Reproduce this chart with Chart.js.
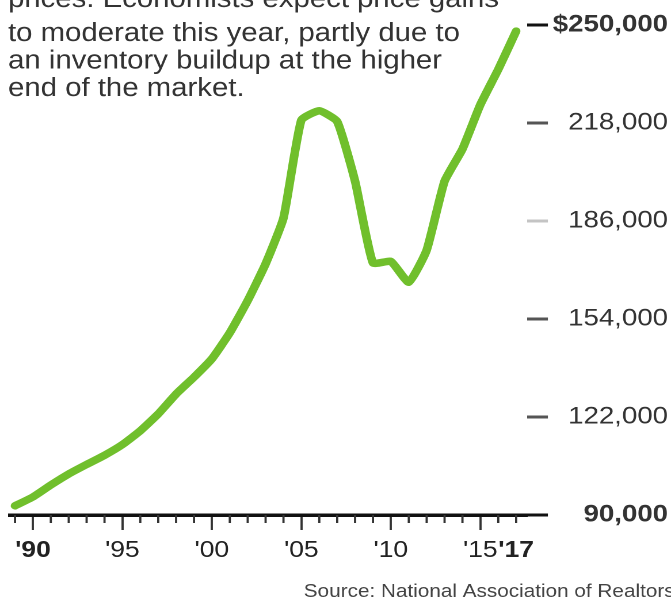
<!DOCTYPE html>
<html>
<head>
<meta charset="utf-8">
<script src="https://cdn.jsdelivr.net/npm/chart.js@4.4.1/dist/chart.umd.min.js"></script>
<style>
  html, body { margin: 0; padding: 0; background: #fff; overflow: hidden; }
  #wrap { position: relative; width: 671px; height: 603px; overflow: hidden; background: #fff; }
  #c { position: absolute; left: 0; top: 0; transform-origin: 0 0; }
</style>
</head>
<body>
<div id="wrap"><canvas id="c"></canvas></div>
<script>
// Median existing-home sale price, U.S., by year
const years = [1989, 1990, 1991, 1992, 1993, 1994, 1995, 1996, 1997, 1998,
               1999, 2000, 2001, 2002, 2003, 2004, 2005, 2006, 2007, 2008,
               2009, 2010, 2011, 2012, 2013, 2014, 2015, 2016, 2017];
const medianPrice = [93000, 95900, 99800, 103400, 106500, 109500, 113000, 117500, 123000, 129500,
                     135000, 141000, 149500, 160000, 172000, 187000, 219000, 222000, 218500, 199000,
                     172300, 172800, 166000, 176500, 199000, 209500, 224000, 235500, 248000];

// Axis ticks
const yTickValues = [90000, 122000, 154000, 186000, 218000, 250000];
const xLabelYears = [1990, 1995, 2000, 2005, 2010, 2015, 2017];
const xLabelText  = ["'90", "'95", "'00", "'05", "'10", "'15", "'17"];

// Text blocks
const headline = [
  "prices. Economists expect price gains",
  "to moderate this year, partly due to",
  "an inventory buildup at the higher",
  "end of the market."
];
const sourceNote = "Source: National Association of Realtors";

// ---- drawing setup ----
const FONT = '"Liberation Sans", Arial, Helvetica, sans-serif';
const SX = 1.15;                         // horizontal stretch of the whole graphic
const W = Math.round(671 / SX), H = 603;
const px = v => v / SX;                  // page x -> canvas x

const canvas = document.getElementById('c');
canvas.width = W;
canvas.height = H;
canvas.style.width = W + 'px';
canvas.style.height = H + 'px';
canvas.style.transform = 'scaleX(' + (671 / W) + ')';

const yTickFont = v => ({ family: FONT, size: 24, weight: (v === 250000 || v === 90000) ? 'bold' : 'normal' });
const yLabel = v => (v === 250000 ? '$' : '') + v.toLocaleString('en-US');
const yTickColor = { 250000: '#111', 218000: '#555', 186000: '#c4c4c4', 154000: '#555', 122000: '#555', 90000: '#111' };

// width of the widest value label, for right-aligning them at the edge
const meas = document.createElement('canvas').getContext('2d');
let widest = 0;
yTickValues.forEach(v => {
  const f = yTickFont(v);
  meas.font = f.weight + ' ' + f.size + 'px ' + f.family;
  widest = Math.max(widest, meas.measureText(yLabel(v)).width);
});
const Y_AXIS_W = px(668 - 527);
const Y_TICK_LEN = px(21);
const Y_PAD = Math.max(0, Y_AXIS_W - Y_TICK_LEN - widest);

// short yearly ticks between the five-year marks
const minorTicks = {
  id: 'minorTicks',
  afterDraw(chart) {
    const xs = chart.scales.x, ctx = chart.ctx;
    ctx.save();
    ctx.strokeStyle = '#333';
    ctx.lineWidth = px(2.2);
    years.forEach(yr => {
      if (yr % 5 === 0) return;
      const x = xs.getPixelForValue(yr);
      ctx.beginPath();
      ctx.moveTo(x, xs.top);
      ctx.lineTo(x, xs.top + 8);
      ctx.stroke();
    });
    ctx.restore();
  }
};

// headline text and source line
const captions = {
  id: 'captions',
  afterDraw(chart) {
    const ctx = chart.ctx;
    ctx.save();
    ctx.fillStyle = '#333';
    ctx.textAlign = 'left';
    ctx.textBaseline = 'alphabetic';
    ctx.font = '25.5px ' + FONT;
    const base = [7, 41, 68.5, 96];
    headline.forEach((line, i) => ctx.fillText(line, px(8), base[i]));
    ctx.font = '18px ' + FONT;
    ctx.textAlign = 'right';
    ctx.fillStyle = '#444';
    ctx.fillText(sourceNote, px(674), 597);
    ctx.restore();
  }
};

new Chart(canvas, {
  type: 'line',
  data: {
    datasets: [{
      data: years.map((yr, i) => ({ x: yr, y: medianPrice[i] })),
      borderColor: '#70bf2c',
      borderWidth: 7.5,
      borderJoinStyle: 'round',
      borderCapStyle: 'round',
      pointRadius: 0,
      tension: 0.15,
      clip: false
    }]
  },
  options: {
    responsive: false,
    animation: false,
    devicePixelRatio: 2,
    layout: { padding: { left: px(10), right: px(3), top: 25, bottom: 38 } },
    plugins: { legend: { display: false }, tooltip: { enabled: false } },
    scales: {
      x: {
        type: 'linear',
        position: 'bottom',
        min: 1988.72,
        max: 2017.6,
        afterBuildTicks: s => { s.ticks = years.map(v => ({ value: v })); },
        afterFit: s => { s.height = 50; },
        ticks: {
          autoSkip: false,
          maxRotation: 0,
          padding: 7,
          color: '#222',
          font: c => ({ family: FONT, size: 23, weight: (c.tick && (c.tick.value === 2017 || c.tick.value === 1990)) ? 'bold' : 'normal' }),
          callback: v => { const k = xLabelYears.indexOf(v); return k >= 0 ? xLabelText[k] : ''; }
        },
        grid: {
          drawOnChartArea: false,
          drawTicks: true,
          tickLength: 15,
          tickWidth: px(2.2),
          tickColor: c => (c.tick && c.tick.value % 5 === 0) ? '#333' : 'rgba(0,0,0,0)'
        },
        border: { display: true, color: '#111', width: 3.5 }
      },
      y: {
        type: 'linear',
        position: 'right',
        min: 90000,
        max: 250000,
        afterBuildTicks: s => { s.ticks = yTickValues.map(v => ({ value: v })); },
        afterFit: s => { s.width = Y_AXIS_W; },
        ticks: {
          crossAlign: 'far',
          padding: Y_PAD,
          color: '#333',
          font: c => yTickFont(c.tick ? c.tick.value : 0),
          callback: v => yLabel(v)
        },
        grid: {
          drawOnChartArea: false,
          drawTicks: true,
          tickLength: Y_TICK_LEN,
          tickWidth: 3,
          tickColor: c => yTickColor[c.tick ? c.tick.value : 0] || '#555'
        },
        border: { display: false }
      }
    }
  },
  plugins: [minorTicks, captions]
});
</script>
</body>
</html>
